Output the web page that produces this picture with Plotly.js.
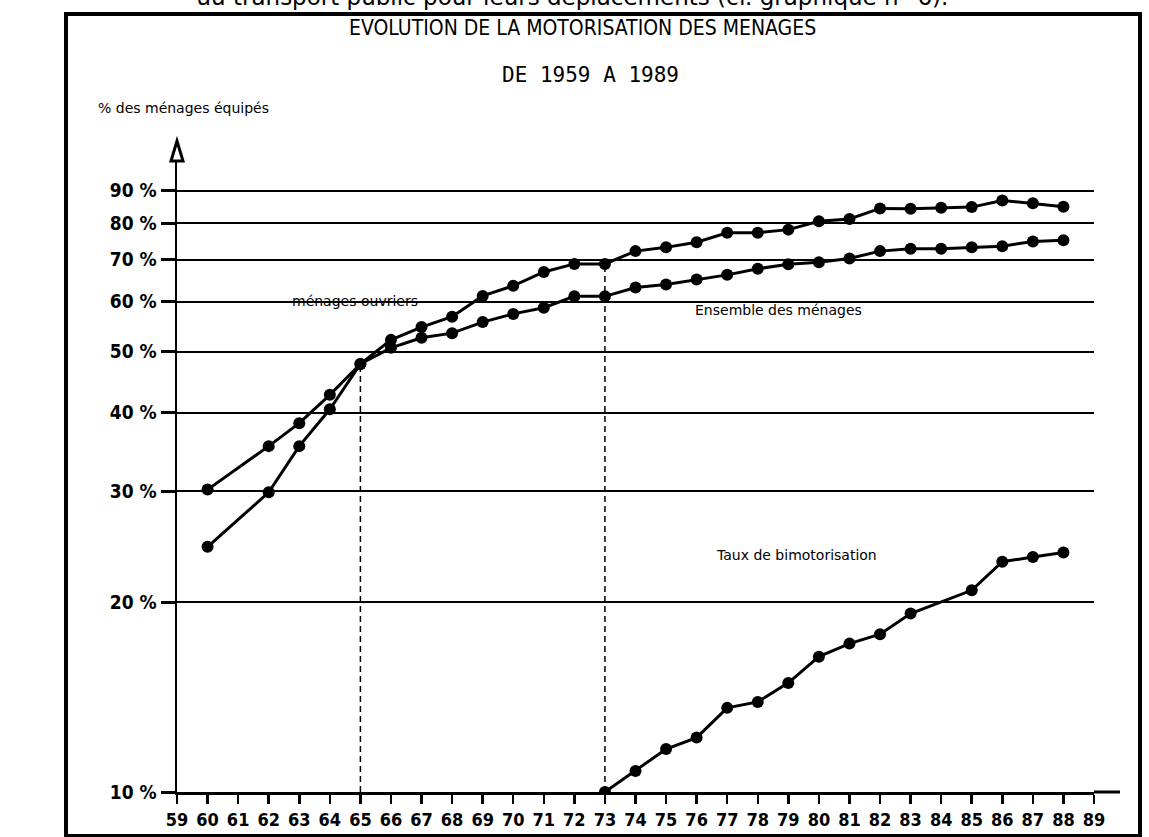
<!DOCTYPE html>
<html>
<head>
<meta charset="utf-8">
<script src="https://cdn.plot.ly/plotly-3.0.1.min.js"></script>
<style>html,body{margin:0;padding:0;background:#fff;}#chart{width:1149px;height:837px;}</style>
</head>
<body>
<div id="chart"></div>
<script>
// ---- data ----
const years = [60,62,63,64,65,66,67,68,69,70,71,72,73,74,75,76,77,78,79,80,81,82,83,84,85,86,87,88];
const ensemble = [30.2,35.4,38.5,42.7,47.8,50.7,52.6,53.5,55.7,57.4,58.7,61.2,61.2,63.2,63.9,65.1,66.2,67.7,68.8,69.3,70.3,72.2,72.8,72.8,73.2,73.5,74.8,75.1];
const ouvriers = [24.5,29.9,35.4,40.5,47.8,52.2,54.7,56.8,61.3,63.6,66.9,68.9,68.9,72.2,73.2,74.6,77.2,77.2,78.1,80.5,81.2,84.4,84.3,84.6,84.8,86.9,86.0,84.9];
const bimoYears = [73,74,75,76,77,78,79,80,81,82,83,85,86,87,88];
const bimotorisation = [10.0,10.8,11.7,12.2,13.6,13.9,14.9,16.4,17.2,17.8,19.2,20.9,23.2,23.6,24.0];
const refYears = [65,73];
const yTickVals = [10,20,30,40,50,60,70,80,90];
const yTickText = ["10 %","20 %","30 %","40 %","50 %","60 %","70 %","80 %","90 %"];
const xTickVals = [59,60,61,62,63,64,65,66,67,68,69,70,71,72,73,74,75,76,77,78,79,80,81,82,83,84,85,86,87,88,89];
const xTickText = xTickVals.map(v => String(v));

const lineStyle = {color:'#000', width:3};
const markerStyle = {color:'#000', size:12};

const traces = [];
// dashed reference lines
refYears.forEach(yr => {
  const i = years.indexOf(yr);
  traces.push({x:[yr,yr], y:[yTickVals[0], ouvriers[i]], mode:'lines',
    line:{color:'#000', width:1.5, dash:'6px,4px'}, hoverinfo:'skip'});
});
traces.push({x:years, y:ensemble, mode:'lines+markers', name:'Ensemble des ménages', line:lineStyle, marker:markerStyle});
traces.push({x:years, y:ouvriers, mode:'lines+markers', name:'ménages ouvriers', line:lineStyle, marker:markerStyle});
traces.push({x:bimoYears, y:bimotorisation, mode:'lines+markers', name:'Taux de bimotorisation', line:lineStyle, marker:markerStyle});

// geometry helpers (plot area: left 177, right 1094, top 150, bottom 792)
const L=177, R=1094, T=150, B=792;
const px = p => (p-L)/(R-L);
const py = p => (B-p)/(B-T);

const lblFont = {family:'DejaVu Sans', size:14, color:'#000'};
const layout = {
  width:1149, height:837,
  margin:{l:L, r:1149-R, t:T, b:837-B, pad:0},
  paper_bgcolor:'#fff', plot_bgcolor:'#fff',
  showlegend:false,
  xaxis:{range:[59,89], tickmode:'array', tickvals:xTickVals, ticktext:xTickText,
    ticks:'outside', ticklen:9, tickwidth:2.5, tickcolor:'#000',
    showgrid:false, zeroline:false, showline:true, linecolor:'#000', linewidth:3,
    tickfont:{family:'DejaVu Sans Condensed', size:18, color:'#000', weight:'bold'}},
  yaxis:{type:'log', range:[1, 1+(B-T)/630], tickmode:'array', tickvals:yTickVals, ticktext:yTickText,
    ticks:'outside', ticklen:14, tickwidth:3, tickcolor:'#000',
    showgrid:true, gridcolor:'#000', gridwidth:2, zeroline:false,
    showline:true, linecolor:'#000', linewidth:2.5,
    tickfont:{family:'DejaVu Sans Condensed', size:19, color:'#000', weight:'bold'}},
  shapes:[
    // outer frame
    {type:'rect', xref:'paper', yref:'paper', x0:px(66), x1:px(1140), y0:py(836), y1:py(14), line:{color:'#000', width:4}},
    // axis extension to the right
    {type:'line', xref:'paper', yref:'paper', x0:1, x1:px(1120), y0:0, y1:0, line:{color:'#000', width:3}},
    // y-axis extension and arrow
    {type:'line', xref:'paper', yref:'paper', x0:0, x1:0, y0:1, y1:py(158), line:{color:'#000', width:2.5}},
    {type:'path', xref:'paper', yref:'paper',
      path:`M ${px(171)} ${py(161)} L ${px(177)} ${py(141)} L ${px(183)} ${py(161)} Z`,
      line:{color:'#000', width:3}, fillcolor:'#fff'}
  ],
  annotations:[
    {text:'au transport public pour leurs déplacements (cf. graphique n° 6).', xref:'paper', yref:'paper',
      x:px(572), y:py(-3), xanchor:'center', yanchor:'middle', showarrow:false,
      font:{family:'DejaVu Sans', size:23, color:'#000'}},
    {text:'EVOLUTION DE LA MOTORISATION DES MENAGES', xref:'paper', yref:'paper',
      x:px(582), y:py(28), xanchor:'center', yanchor:'middle', showarrow:false,
      font:{family:'DejaVu Sans Condensed', size:21, color:'#000'}},
    {text:'DE 1959 A 1989', xref:'paper', yref:'paper',
      x:px(590), y:py(75), xanchor:'center', yanchor:'middle', showarrow:false,
      font:{family:'DejaVu Sans Mono', size:21, color:'#000'}},
    {text:'% des ménages équipés', xref:'paper', yref:'paper',
      x:px(96), y:py(108), xanchor:'left', yanchor:'middle', showarrow:false, font:lblFont},
    {text:'ménages ouvriers', xref:'paper', yref:'paper',
      x:px(355), y:py(301), xanchor:'center', yanchor:'middle', showarrow:false, font:lblFont},
    {text:'Ensemble des ménages', xref:'paper', yref:'paper',
      x:px(778), y:py(310), xanchor:'center', yanchor:'middle', showarrow:false, font:lblFont},
    {text:'Taux de bimotorisation', xref:'paper', yref:'paper',
      x:px(796), y:py(555), xanchor:'center', yanchor:'middle', showarrow:false, font:lblFont}
  ]
};

Plotly.newPlot('chart', traces, layout, {displayModeBar:false, staticPlot:true});
</script>
</body>
</html>
